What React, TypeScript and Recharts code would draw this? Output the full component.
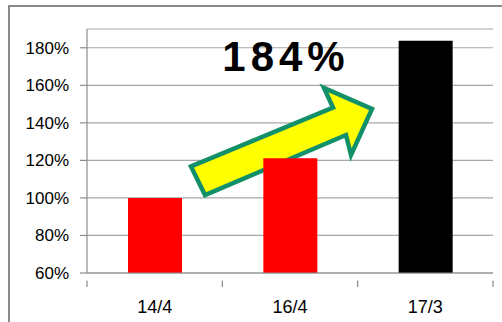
import React from "react";
import { BarChart, Bar, XAxis, YAxis, CartesianGrid, Cell, Customized } from "recharts";

const categories = ["14/4", "16/4", "17/3"];
const values = [1.0, 1.212, 1.837];
const barColors = ["#ff0000", "#ff0000", "#000000"];
const yTicks = [0.6, 0.8, 1.0, 1.2, 1.4, 1.6, 1.8];
const calloutLabel = "184%";

const data = categories.map((c, i) => ({ name: c, value: values[i] }));

const W = 502;
const H = 322;
const FONT = "'Liberation Sans', Arial, sans-serif";
const AXIS = "#8c8c8c";

const XTick = (props: any) => {
  const { x, y, payload, index } = props;
  const band = (W - 87 - 9) / categories.length;
  const left = x - band / 2;
  const right = x + band / 2;
  const isLast = index === categories.length - 1;
  return (
    <g>
      <line x1={left} y1={y - 0.5} x2={left} y2={y + 6} stroke={AXIS} strokeWidth={1.2} />
      {isLast && <line x1={right} y1={y - 0.5} x2={right} y2={y + 6} stroke={AXIS} strokeWidth={1.2} />}
      <text x={x} y={y + 32} textAnchor="middle" fontSize={18} fill="#000" fontFamily={FONT}>
        {payload.value}
      </text>
    </g>
  );
};

const Overlay = () => (
  <g>
    <text
      x={286}
      y={71}
      textAnchor="middle"
      fontSize={42}
      fontWeight="bold"
      letterSpacing={5}
      fill="#000"
      fontFamily={FONT}
    >
      {calloutLabel}
    </text>
    <polygon
      points="191,166.5 205,195 346,135 351,155 372,109 324,88 333,107.5"
      fill="#ffff00"
      stroke="#12906a"
      strokeWidth={4.5}
      strokeLinejoin="miter"
    />
  </g>
);

export default function App() {
  return (
    <div style={{ position: "absolute", left: 0, top: 0, width: W, height: H, background: "#fff", overflow: "hidden" }}>
      <div
        style={{
          position: "absolute",
          left: 8,
          top: 5,
          width: W,
          height: H,
          borderLeft: "2px solid #8a8a8a",
          borderTop: "2px solid #8a8a8a",
        }}
      />
      <div style={{ position: "absolute", left: 0, top: 0 }}>
        <BarChart width={W} height={H} data={data} margin={{ top: 29, right: 9, bottom: 0, left: 0 }} barSize={54}>
          <CartesianGrid horizontal vertical={false} stroke="#a8a8a8" strokeWidth={1.2} />
          <XAxis
            dataKey="name"
            height={49}
            axisLine={{ stroke: AXIS, strokeWidth: 1.2 }}
            tickLine={false}
            tick={<XTick />}
            interval={0}
          />
          <YAxis
            width={87}
            domain={[0.6, 1.9]}
            ticks={yTicks}
            allowDataOverflow
            axisLine={{ stroke: AXIS, strokeWidth: 1.2 }}
            tickLine={{ stroke: AXIS, strokeWidth: 1.2 }}
            tickSize={7}
            tickMargin={11}
            tickFormatter={(v: number) => `${Math.round(v * 100)}%`}
            tick={{ fontSize: 17, fill: "#000", fontFamily: FONT }}
          />
          <Bar dataKey="value" isAnimationActive={false}>
            {data.map((d, i) => (
              <Cell key={d.name} fill={barColors[i]} />
            ))}
          </Bar>
          <Customized component={Overlay} />
        </BarChart>
      </div>
    </div>
  );
}
